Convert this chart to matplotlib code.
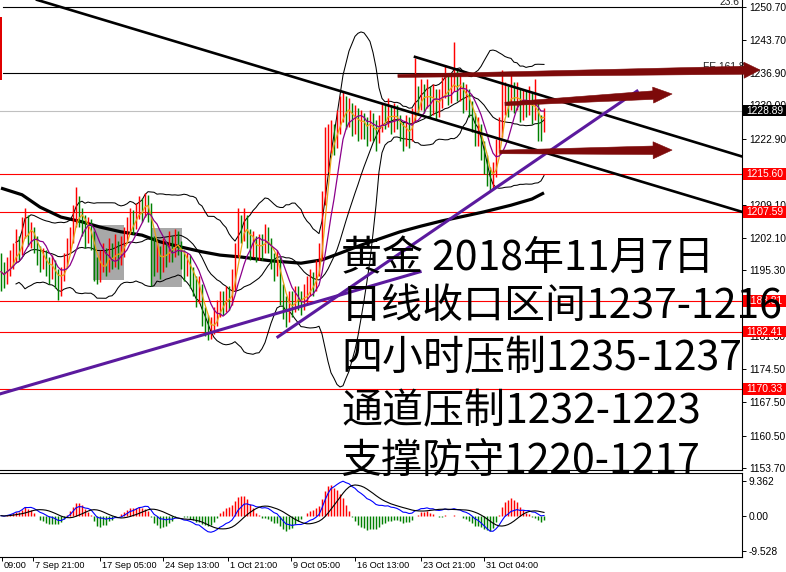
import numpy as np
import pandas as pd
import matplotlib
matplotlib.use("Agg")
import matplotlib.pyplot as plt
from matplotlib.patches import Rectangle, Polygon
from matplotlib.transforms import blended_transform_factory

# ---------------------------------------------------------------- data
first_open = 1195.5
closes = [
    1195.0, 1193.8, 1196.2, 1197.0, 1198.4, 1200.5, 1199.2, 1203.1, 1206.0, 1202.4,
    1203.5, 1201.0, 1199.0, 1197.2, 1198.3, 1196.1, 1195.0, 1196.4, 1194.2, 1191.8,
    1194.0, 1197.3, 1200.2, 1202.0, 1206.3, 1209.5, 1207.0, 1205.1, 1203.0, 1204.4,
    1202.2, 1196.0, 1193.5, 1197.1, 1198.2, 1196.0, 1199.4, 1197.3, 1200.1, 1198.0,
    1199.5, 1202.3, 1204.1, 1206.2, 1205.0, 1207.4, 1209.2, 1207.9, 1210.1, 1208.6,
    1200.8, 1197.0, 1199.3, 1196.2, 1200.0, 1198.1, 1201.2, 1199.0, 1202.0, 1200.3,
    1198.0, 1196.1, 1197.2, 1195.0, 1192.8, 1190.2, 1192.0, 1186.2, 1184.0, 1182.1,
    1183.3, 1185.4, 1187.0, 1189.2, 1188.1, 1190.3, 1189.0, 1192.2, 1199.0, 1204.2,
    1203.1, 1206.0, 1202.3, 1200.0, 1201.4, 1199.2, 1201.3, 1200.0, 1203.0, 1201.2,
    1198.1, 1196.0, 1197.3, 1191.0, 1188.2, 1186.0, 1189.0, 1188.0, 1190.1, 1189.2,
    1188.3, 1190.2, 1191.3, 1193.0, 1192.1, 1195.2, 1198.3, 1210.0, 1218.2, 1222.0,
    1224.3, 1222.1, 1226.2, 1229.0, 1231.0, 1227.2, 1229.1, 1226.0, 1228.2, 1225.3,
    1227.1, 1226.0, 1224.1, 1227.0, 1225.2, 1223.1, 1226.0, 1228.0, 1227.1, 1229.2,
    1226.3, 1228.1, 1227.0, 1225.1, 1223.0, 1226.2, 1224.0, 1227.0, 1232.2, 1230.1,
    1233.0, 1231.2, 1233.0, 1230.1, 1232.2, 1229.3, 1231.0, 1233.1, 1235.0, 1232.2,
    1234.1, 1236.0, 1233.1, 1234.0, 1231.0, 1232.1, 1230.0, 1227.2, 1224.0, 1225.1,
    1221.0, 1218.1, 1215.0, 1213.2, 1216.0, 1221.2, 1225.0, 1230.1, 1232.0, 1230.2,
    1233.1, 1231.0, 1232.2, 1229.0, 1231.1, 1230.0, 1231.2, 1228.1, 1230.0, 1226.1,
    1225.0, 1228.89,
]
highs = [
    1199.0, 1197.0, 1198.0, 1199.5, 1201.0, 1204.0, 1202.5, 1206.5, 1208.5, 1207.0,
    1205.5, 1204.5, 1202.5, 1200.5, 1200.0, 1199.5, 1198.0, 1198.5, 1197.5, 1195.5,
    1196.0, 1199.0, 1202.0, 1204.5, 1209.0, 1212.8, 1211.0, 1208.5, 1207.0, 1206.5,
    1206.0, 1203.5, 1198.0, 1199.5, 1201.0, 1200.0, 1202.0, 1201.0, 1203.0, 1201.5,
    1202.5, 1204.5, 1206.5, 1208.5, 1208.0, 1209.5, 1211.0, 1210.5, 1211.5, 1211.2,
    1209.5, 1202.5, 1201.5, 1200.5, 1202.0, 1201.5, 1203.5, 1202.5, 1204.0, 1203.5,
    1201.5, 1199.5, 1199.0, 1198.5, 1196.0, 1194.0, 1194.0, 1192.5, 1187.5, 1186.0,
    1185.5, 1187.5, 1189.0, 1191.0, 1191.0, 1192.0, 1192.0, 1195.5, 1201.0, 1208.4,
    1207.0, 1208.4, 1207.0, 1204.0, 1203.5, 1202.5, 1203.0, 1203.0, 1205.0, 1204.5,
    1202.0, 1199.0, 1199.5, 1198.0, 1192.5, 1190.0, 1191.0, 1191.0, 1192.0, 1192.0,
    1191.0, 1192.5, 1194.0, 1195.5, 1195.0, 1197.5, 1201.0, 1212.0, 1225.5, 1226.0,
    1227.0, 1226.0, 1229.0, 1232.0, 1232.8, 1232.0, 1231.5, 1230.5, 1230.0, 1229.5,
    1229.0, 1228.5, 1227.5, 1229.0, 1228.5, 1227.0, 1228.0, 1230.5, 1230.0, 1231.5,
    1230.0, 1230.5, 1230.0, 1228.0, 1226.5, 1228.0, 1227.5, 1229.5, 1240.0, 1234.0,
    1235.5, 1234.5, 1235.5, 1234.0, 1234.5, 1233.5, 1233.5, 1236.0, 1238.5, 1236.5,
    1236.5, 1243.3, 1237.5, 1236.5, 1235.0, 1234.5, 1233.5, 1231.0, 1228.5, 1227.5,
    1226.0, 1222.5, 1219.5, 1217.0, 1218.0, 1223.0, 1227.5, 1237.4, 1235.0, 1234.0,
    1236.5, 1235.0, 1235.0, 1233.5, 1233.5, 1233.0, 1234.0, 1232.5, 1235.5, 1231.0,
    1228.0, 1229.5,
]
lows = [
    1191.0, 1191.5, 1192.5, 1194.0, 1195.5, 1197.0, 1197.5, 1198.5, 1202.0, 1200.5,
    1200.0, 1199.0, 1196.5, 1195.0, 1195.5, 1194.0, 1192.5, 1193.5, 1191.5, 1189.0,
    1190.0, 1193.0, 1196.0, 1199.0, 1201.0, 1204.5, 1204.5, 1202.5, 1200.0, 1201.0,
    1199.5, 1193.0, 1192.5, 1192.8, 1195.0, 1194.0, 1195.0, 1195.5, 1196.0, 1195.5,
    1196.5, 1198.0, 1201.0, 1203.0, 1203.0, 1204.0, 1206.0, 1205.5, 1206.5, 1205.5,
    1192.0, 1194.0, 1195.0, 1193.5, 1195.0, 1196.0, 1197.0, 1197.0, 1198.0, 1198.5,
    1195.5, 1193.0, 1194.0, 1191.5, 1190.0, 1187.5, 1188.5, 1183.5, 1181.5, 1180.6,
    1180.8, 1182.0, 1183.5, 1185.5, 1186.0, 1186.5, 1187.0, 1188.0, 1191.0, 1198.0,
    1201.0, 1201.5, 1200.0, 1197.5, 1198.0, 1197.0, 1197.5, 1197.5, 1199.0, 1199.0,
    1195.5, 1193.0, 1194.0, 1188.0, 1185.0, 1183.4, 1184.5, 1185.5, 1186.5, 1187.0,
    1186.0, 1187.0, 1188.5, 1190.0, 1190.0, 1191.0, 1194.0, 1197.5, 1209.0, 1216.0,
    1220.0, 1219.5, 1221.0, 1224.0, 1226.5, 1225.0, 1225.5, 1223.5, 1224.0, 1222.5,
    1223.0, 1223.0, 1221.5, 1222.5, 1222.5, 1220.5, 1222.0, 1224.5, 1225.0, 1225.5,
    1224.0, 1224.5, 1225.0, 1222.5, 1220.5, 1221.5, 1221.0, 1222.5, 1226.5, 1228.0,
    1229.0, 1228.5, 1229.5, 1227.5, 1228.0, 1227.0, 1227.5, 1229.5, 1231.5, 1230.0,
    1230.5, 1233.0, 1231.0, 1231.0, 1228.5, 1229.0, 1227.5, 1224.5, 1221.5, 1221.5,
    1218.5, 1215.5, 1213.0, 1212.2, 1212.5, 1215.0, 1220.0, 1223.3, 1228.0, 1227.5,
    1229.0, 1228.5, 1229.0, 1226.5, 1227.0, 1227.5, 1228.0, 1226.0, 1227.0, 1222.5,
    1222.5, 1224.5,
]

# long moving average (bar index, price)
slow_ma_bars = [0, 7, 13, 20, 27, 33, 40, 47, 53, 60, 67, 73, 80, 90, 100,
                107, 113, 120, 127, 133, 140, 147, 153, 161, 170, 177, 181]
slow_ma = [1212.6, 1211.2, 1208.6, 1206.5, 1205.5, 1204.4, 1203.4, 1202.7, 1201.3,
           1200.2, 1199.2, 1198.5, 1198.1, 1197.3, 1196.8, 1197.5, 1198.9, 1200.6,
           1202.1, 1203.4, 1204.6, 1205.7, 1206.5, 1207.6, 1209.0, 1210.3, 1211.6]

support_levels = [1215.60, 1207.59, 1188.81, 1182.41, 1170.33]
current_price = 1228.89
fib_23_6 = 1250.70
fe_161_8 = 1236.81

price_ticks = [1250.70, 1243.70, 1236.90, 1230.00, 1222.90, 1216.00, 1209.10, 1202.10,
               1195.30, 1188.40, 1181.50, 1174.50, 1167.50, 1160.50, 1153.70]
macd_ticks = [9.362, 0.0, -9.528]
macd_tick_labels = ["9.362", "0.00", "-9.528"]
time_labels = ["09:00", "7 Sep 21:00", "17 Sep 05:00", "24 Sep 13:00", "1 Oct 21:00",
               "9 Oct 05:00", "16 Oct 13:00", "23 Oct 21:00", "31 Oct 04:00"]
time_label_bars = [0.33, 10.67, 33.0, 54.0, 75.67, 96.67, 118.0, 140.0, 161.0]

# drawn objects, in (bar index, price)
down_trendlines = [((12.0, 1252.2), (247.0, 1207.6)),
                   ((138.0, 1240.2), (247.0, 1219.25))]
up_trendlines = [((-0.33, 1169.3), (139.7, 1195.0)),
                 ((92.3, 1181.3), (212.0, 1233.0))]
target_arrows = [((132.3, 1236.2), (253.0, 1237.45)),
                 ((168.0, 1230.3), (223.7, 1232.4)),
                 ((166.3, 1220.2), (223.7, 1220.6))]
range_boxes = [(30.67, 41.0, 1193.3, 1204.8),
               (50.33, 60.33, 1191.8, 1204.2)]

headline = ["黄金 2018年11月7日",
            "日线收口区间1237-1216",
            "四小时压制1235-1237",
            "通道压制1232-1223",
            "支撑防守1220-1217"]

# ---------------------------------------------------------------- indicators
c = pd.Series(closes)
n = len(closes)
idx = np.arange(n)
opens = np.array([first_open] + closes[:-1])
cl = np.array(closes)
hi = np.maximum(np.array(highs), np.maximum(opens, cl))
lo = np.minimum(np.array(lows), np.minimum(opens, cl))

ma_fast = c.rolling(4, min_periods=1).mean()
ma_mid = c.rolling(8, min_periods=1).mean()
bb_mid = c.rolling(20, min_periods=6).mean()
bb_sd = c.rolling(20, min_periods=6).std(ddof=0)
bb_up = bb_mid + 2 * bb_sd
bb_dn = bb_mid - 2 * bb_sd

macd = c.ewm(span=8, adjust=False).mean() - c.ewm(span=17, adjust=False).mean()
signal = macd.rolling(9, min_periods=1).mean()
osma = 1.5 * (macd - signal)

# ---------------------------------------------------------------- figure
W, H = 786, 572
fig = plt.figure(figsize=(W / 100, H / 100), dpi=100)
fig.patch.set_facecolor("white")
axis_font = "Liberation Sans"
axis_size = 7.4
date_size = 6.6


def frame(left, top, right, bottom):
    return [left / W, 1 - bottom / H, (right - left) / W, (bottom - top) / H]


ax = fig.add_axes(frame(0, 0, 742, 470))
ax2 = fig.add_axes(frame(0, 473, 742, 557))
xlim = (-0.333, 247.0)
for a in (ax, ax2):
    a.set_xlim(*xlim)
    a.spines["left"].set_visible(False)
    for s in ("right", "bottom", "top"):
        a.spines[s].set_linewidth(0.8)
ax.spines["top"].set_visible(False)
ax.set_ylim(1153.29, 1252.17)
ax2.set_ylim(-11.15, 11.52)

# price axis
ax.set_xticks([])
ax.yaxis.tick_right()
ax.set_yticks(price_ticks)
ax.set_yticklabels([f"{p:.2f}" for p in price_ticks])
ax.tick_params(axis="y", direction="out", length=3, width=0.7, pad=2, labelsize=axis_size)
for t in ax.get_yticklabels():
    t.set_fontfamily(axis_font)

# range boxes
for x0, x1, p0, p1 in range_boxes:
    ax.add_patch(Rectangle((x0, p0), x1 - x0, p1 - p0, fc="#a8a8a8", ec="none", zorder=1))

# horizontal levels
for p in support_levels:
    ax.axhline(p, color="#ff0000", lw=0.8, zorder=1.5)
ax.axhline(current_price, color="#c0c0c0", lw=0.8, zorder=1.4)
ax.axhline(fib_23_6, xmin=0.004, color="black", lw=0.8, zorder=1.5)
ax.axhline(fe_161_8, xmin=0.004, color="black", lw=0.8, zorder=1.5)

# bollinger bands and averages
for band in (bb_up, bb_mid, bb_dn):
    ax.plot(idx, band, color="black", lw=0.75, zorder=2)
ax.plot(slow_ma_bars, slow_ma, color="black", lw=2.3, zorder=2.5, solid_capstyle="butt")

# price bars
bar_colors = np.where(cl >= opens, "#ff0000", "#008000")
ax.vlines(idx, lo, hi, colors=bar_colors, lw=1.05, zorder=3)
ax.plot(idx, ma_fast, color="#e8a317", lw=0.9, zorder=3.5)
ax.plot(idx, ma_mid, color="#8b008b", lw=0.9, zorder=3.5)

# trendlines
for (x0, y0), (x1, y1) in down_trendlines:
    ax.plot([x0, x1], [y0, y1], color="black", lw=1.9, zorder=4)
for (x0, y0), (x1, y1) in up_trendlines:
    ax.plot([x0, x1], [y0, y1], color="#5b1a9e", lw=2.2, zorder=4)


def draw_arrow(tail, tip, tail_w, shaft_w, head_w, head_len, color):
    p0 = ax.transData.transform(tail)
    p1 = ax.transData.transform(tip)
    d = p1 - p0
    u = d / np.hypot(*d)
    nrm = np.array([-u[1], u[0]])
    neck = p1 - u * head_len
    pts = [p0 + nrm * tail_w / 2, neck + nrm * shaft_w / 2, neck + nrm * head_w / 2, p1,
           neck - nrm * head_w / 2, neck - nrm * shaft_w / 2, p0 - nrm * tail_w / 2]
    pts = ax.transData.inverted().transform(pts)
    ax.add_patch(Polygon(pts, closed=True, fc=color, ec=color, lw=0.4,
                         clip_on=False, zorder=6))


arrow_color = "#7d0a0a"
draw_arrow(*target_arrows[0], 3.0, 8.0, 16.0, 16.0, arrow_color)
draw_arrow(*target_arrows[1], 3.5, 8.5, 16.0, 19.0, arrow_color)
draw_arrow(*target_arrows[2], 3.5, 8.5, 17.0, 19.0, arrow_color)

# level captions
cap_tr = blended_transform_factory(ax.transAxes, ax.transData)
ax.text(740 / 742, 1251.2, "23.6", transform=cap_tr, ha="right", va="baseline",
        fontsize=axis_size, fontfamily=axis_font, color="#222222", clip_on=False, zorder=5)
ax.text(703 / 742, 1237.4, "FE 161.8", transform=cap_tr, ha="left", va="baseline",
        fontsize=axis_size, fontfamily=axis_font, color="#222222", clip_on=False, zorder=5)
ax.add_patch(Rectangle((-0.333, 1235.3), 0.67, 13.3, fc="#e00000", ec="none",
                       clip_on=False, zorder=6))

# price tags on the axis
half_h = 5.8 / 4.7526
for p, fc in [(p, "#ff0000") for p in support_levels] + [(current_price, "black")]:
    ax.add_patch(Rectangle((743 / 742, p - half_h), 43 / 742, 2 * half_h, transform=cap_tr,
                           fc=fc, ec="none", clip_on=False, zorder=7))
    ax.text(746 / 742, p, f"{p:.2f}", transform=cap_tr, ha="left", va="center",
            fontsize=axis_size, fontfamily=axis_font, color="white", clip_on=False, zorder=8)

# MACD panel
ax2.vlines(idx, 0, osma, colors=np.where(osma > 0, "#ff0000", "#008000"), lw=1.05, zorder=2)
ax2.plot(idx, macd, color="#0000ff", lw=0.8, zorder=3)
ax2.plot(idx, signal, color="black", lw=0.8, zorder=3)
ax2.yaxis.tick_right()
ax2.set_yticks(macd_ticks)
ax2.set_yticklabels(macd_tick_labels)
ax2.tick_params(axis="y", direction="out", length=3, width=0.7, pad=2, labelsize=axis_size)
ax2.set_xticks(time_label_bars)
ax2.set_xticklabels([])
ax2.tick_params(axis="x", direction="out", length=3, width=0.7)
for t in ax2.get_yticklabels():
    t.set_fontfamily(axis_font)
for b, lbl in zip(time_label_bars, time_labels):
    ax2.annotate(lbl, xy=(b, 0), xycoords=blended_transform_factory(ax2.transData, ax2.transAxes),
                 xytext=(1.5, -3.2), textcoords="offset points", ha="left", va="top",
                 fontsize=date_size, fontfamily=axis_font, annotation_clip=False)

# headline
baselines = [270, 318, 370, 423, 473]
for text, yb in zip(headline, baselines):
    fig.text(341 / W, 1 - yb / H, text, ha="left", va="baseline", fontsize=29.5,
             family=["Noto Sans CJK SC", "DejaVu Sans"], color="black", zorder=10)

fig.savefig("out.png", dpi=100, facecolor="white")
